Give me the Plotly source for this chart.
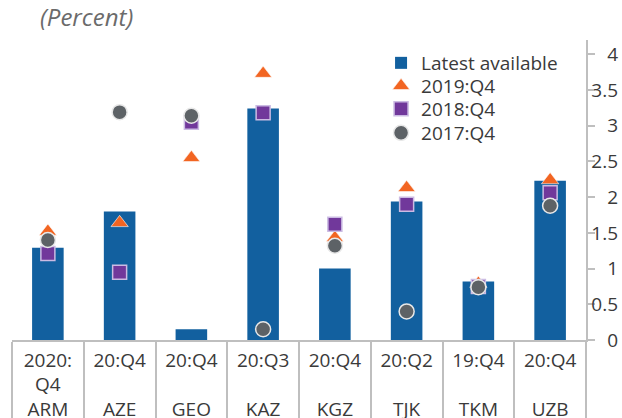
import plotly.graph_objects as go

countries = ["ARM", "AZE", "GEO", "KAZ", "KGZ", "TJK", "TKM", "UZB"]
periods = ["2020:<br>Q4", "20:Q4", "20:Q4", "20:Q3", "20:Q4", "20:Q2", "19:Q4", "20:Q4"]
latest = [1.29, 1.80, 0.15, 3.24, 1.00, 1.94, 0.82, 2.23]
q4_2019 = [1.52, 1.64, 2.55, 3.73, 1.43, 2.13, 0.79, 2.24]
q4_2018 = [1.21, 0.95, 3.05, 3.18, 1.62, 1.90, 0.75, 2.06]
q4_2017 = [1.40, 3.19, 3.14, 0.15, 1.32, 0.40, 0.74, 1.88]
y_ticks = [0, 0.5, 1, 1.5, 2, 2.5, 3, 3.5, 4]
y_labels = ["0", "0.5", "1", "1.5", "2", "2.5", "3", "3.5", "4"]

ticktext = []
for p, c in zip(periods, countries):
    lines = p.count("<br>") + 1
    ticktext.append(p + "<br> " * (2 - lines) + "<br>" + c)

FONT = "Open Sans"
GREY = "#bfbfbf"
TXT = "#3a3a3a"
LEG_X = 0.609
LEG_Y = [(340 - 63) / 300, (340 - 86) / 300, (340 - 109) / 300, (340 - 133) / 300]

fig = go.Figure()
fig.add_trace(go.Bar(x=countries, y=latest, name="Latest available", legend="legend",
                     marker=dict(color="#12609f", line=dict(width=0)), width=0.44))
fig.add_trace(go.Scatter(x=countries, y=q4_2019, name="2019:Q4", mode="markers", legend="legend2",
                         marker=dict(symbol="triangle-up", size=15, color="#f26522",
                                     line=dict(color="rgba(255,255,255,0.6)", width=1))))
fig.add_trace(go.Scatter(x=countries, y=q4_2018, name="2018:Q4", mode="markers", legend="legend3",
                         marker=dict(symbol="square", size=14, color="#71389b",
                                     line=dict(color="#cbbbe3", width=1.5))))
fig.add_trace(go.Scatter(x=countries, y=q4_2017, name="2017:Q4", mode="markers", legend="legend4",
                         marker=dict(symbol="circle", size=15, color="#5d6266",
                                     line=dict(color="#e8e8e8", width=1.5))))
# invisible trace so the right-hand label axis is drawn
fig.add_trace(go.Scatter(x=countries, y=latest, yaxis="y3", mode="markers",
                         marker=dict(opacity=0), showlegend=False, hoverinfo="skip"))

leg = lambda yy: dict(x=LEG_X, y=yy, xanchor="left", yanchor="middle",
                      bgcolor="rgba(0,0,0,0)", borderwidth=0,
                      font=dict(family=FONT, size=19, color=TXT), itemwidth=30)

fig.update_layout(
    width=622, height=418,
    margin=dict(l=12, r=4, t=40, b=78, autoexpand=False),
    paper_bgcolor="white", plot_bgcolor="white",
    font=dict(family=FONT, size=19, color=TXT),
    bargap=0.56,
    title=dict(text="(Percent)", x=40/622, xanchor="left", y=0.978, yanchor="top",
               font=dict(family=FONT, size=24, color="#6b6b6b", style="italic")),
    showlegend=True,
    legend=leg(LEG_Y[0]), legend2=leg(LEG_Y[1]), legend3=leg(LEG_Y[2]), legend4=leg(LEG_Y[3]),
    xaxis=dict(domain=[0, 574/606], type="category", tickmode="array", tickvals=countries,
               ticktext=ticktext, tickson="boundaries", ticks="outside", ticklen=78,
               tickcolor=GREY, tickwidth=1.5, showline=True, linecolor=GREY, linewidth=1.5,
               showgrid=False, ticklabelstandoff=2, tickfont=dict(size=19, color=TXT),
               range=[-0.5, 7.5], fixedrange=True, automargin=False),
    yaxis=dict(range=[0, 4.2], side="right", showline=True, linecolor=GREY, linewidth=1.5,
               ticks="outside", ticklen=7, tickcolor=GREY, tickwidth=1.5,
               tickmode="array", tickvals=y_ticks, showticklabels=False, showgrid=False,
               zeroline=False, automargin=False),
    yaxis2=dict(range=[0, 4.2], overlaying="y", side="left", anchor="x", showline=False,
                ticks="inside", ticklen=7, tickcolor=GREY, tickwidth=1.5,
                tickmode="array", tickvals=y_ticks, showticklabels=False, showgrid=False,
                zeroline=False, automargin=False),
    yaxis3=dict(range=[0, 4.2], overlaying="y", side="left", anchor="free", position=1,
                showline=False, ticks="", tickmode="array", tickvals=y_ticks,
                ticktext=y_labels, showgrid=False, zeroline=False, automargin=False,
                tickfont=dict(size=19, color=TXT)),
)
fig.write_html("out.html", config={"displayModeBar": False},
               post_script="document.body.style.margin='0';document.body.style.padding='0';")
